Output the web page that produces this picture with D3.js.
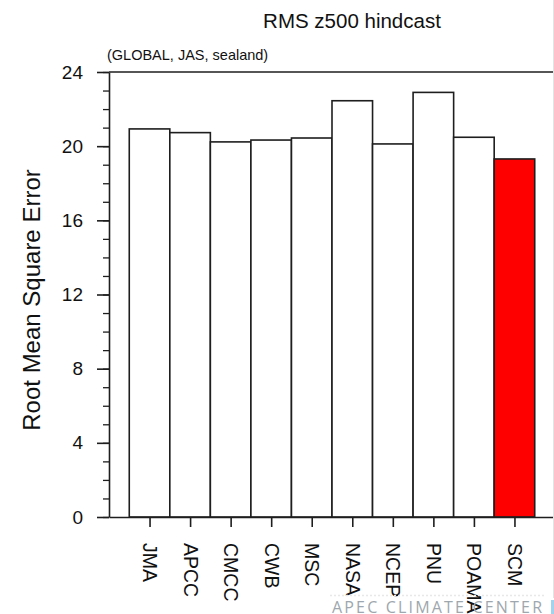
<!DOCTYPE html>
<html>
<head>
<meta charset="utf-8">
<script src="https://cdn.jsdelivr.net/npm/d3@7/dist/d3.min.js"></script>
<style>
  html, body { margin: 0; padding: 0; background: #fff; }
  svg { display: block; font-family: "Liberation Sans", Arial, Helvetica, sans-serif; }
</style>
</head>
<body>
<svg id="chart" width="554" height="614"></svg>
<script>
// Model names along the x axis
const models = ["JMA", "APCC", "CMCC", "CWB", "MSC", "NASA", "NCEP", "PNU", "POAMA", "SCM"];
// RMS error of 500 hPa geopotential height hindcasts
const rmsValues = [20.93, 20.73, 20.23, 20.33, 20.44, 22.45, 20.12, 22.9, 20.48, 19.31];
// Bar fill per model (the multi-model ensemble is highlighted)
const barFills = ["#ffffff", "#ffffff", "#ffffff", "#ffffff", "#ffffff", "#ffffff", "#ffffff", "#ffffff", "#ffffff", "#ff0000"];
// Y axis tick labels
const yMajorTicks = [0, 4, 8, 12, 16, 20, 24];
const yMinorTicks = d3.range(0, 25, 1);

const svg = d3.select("#chart");
const ink = "#1e1e1e";

const plot = { left: 109, right: 555, top: 72, bottom: 517 };

const x = d3.scaleLinear().domain([0, models.length + 1]).range([plot.left, plot.right]);
const y = d3.scaleLinear().domain([0, 24]).range([plot.bottom, plot.top]);

// Bars
svg.append("g")
  .selectAll("rect")
  .data(rmsValues)
  .join("rect")
  .attr("x", (d, i) => x(i + 0.5))
  .attr("y", d => y(d))
  .attr("width", x(1) - x(0))
  .attr("height", d => y(0) - y(d))
  .attr("fill", (d, i) => barFills[i])
  .attr("stroke", ink)
  .attr("stroke-width", 1.6);

// Minor y ticks
svg.append("g")
  .attr("transform", `translate(${plot.left},0)`)
  .call(d3.axisLeft(y).tickValues(yMinorTicks).tickSize(6).tickFormat(""))
  .call(g => g.select(".domain").remove())
  .call(g => g.selectAll("line").attr("stroke", ink).attr("stroke-width", 1.3));

// Major y ticks and labels
svg.append("g")
  .attr("transform", `translate(${plot.left},0)`)
  .call(d3.axisLeft(y).tickValues(yMajorTicks).tickSize(12).tickSizeOuter(0).tickPadding(14).tickFormat(d3.format("d")))
  .call(g => g.select(".domain").attr("stroke", ink).attr("stroke-width", 1.6))
  .call(g => g.selectAll("line").attr("stroke", ink).attr("stroke-width", 1.6))
  .call(g => g.selectAll("text").attr("fill", "#111").attr("font-size", 19)
    .attr("font-family", "'Liberation Sans', Arial, sans-serif"));

// Top frame line
svg.append("line")
  .attr("x1", plot.left).attr("x2", plot.right)
  .attr("y1", plot.top).attr("y2", plot.top)
  .attr("stroke", ink).attr("stroke-width", 1.6);

// X axis with rotated model names
const xAxis = svg.append("g")
  .attr("transform", `translate(0,${plot.bottom})`)
  .call(d3.axisBottom(x).tickValues(d3.range(1, models.length + 1)).tickSize(10).tickSizeOuter(0)
    .tickFormat((d) => models[d - 1]));
xAxis.select(".domain").attr("stroke", ink).attr("stroke-width", 1.6);
xAxis.selectAll("line").attr("stroke", ink).attr("stroke-width", 1.6);
xAxis.selectAll("text")
  .attr("fill", "#111")
  .attr("font-size", 19.5)
  .attr("font-family", "'Liberation Sans', Arial, sans-serif")
  .attr("text-anchor", "start")
  .attr("dominant-baseline", "central")
  .attr("dy", null)
  .attr("y", 0)
  .attr("x", 0)
  .attr("transform", "translate(0,26) rotate(90)");

// Light right edge of the frame
svg.append("line")
  .attr("x1", 553.5).attr("x2", 553.5)
  .attr("y1", 0).attr("y2", 598)
  .attr("stroke", "#e4e4e4").attr("stroke-width", 1);

// Title
svg.append("text")
  .attr("x", 352).attr("y", 28)
  .attr("text-anchor", "middle")
  .attr("font-size", 20.5)
  .attr("fill", "#111")
  .text("RMS z500 hindcast");

// Subtitle
svg.append("text")
  .attr("x", 107).attr("y", 60)
  .attr("font-size", 14.5)
  .attr("fill", "#111")
  .text("(GLOBAL, JAS, sealand)");

// Y axis title
svg.append("text")
  .attr("transform", "translate(40,300) rotate(-90)")
  .attr("text-anchor", "middle")
  .attr("font-size", 24)
  .attr("fill", "#111")
  .text("Root Mean Square Error");

// Footer credit
svg.append("line")
  .attr("x1", 330).attr("x2", 545)
  .attr("y1", 595.5).attr("y2", 595.5)
  .attr("stroke", "#e8e8e8").attr("stroke-width", 1.5)
  .attr("stroke-dasharray", "2,2");
svg.append("text")
  .attr("x", 332).attr("y", 613)
  .attr("font-size", 16)
  .attr("textLength", 210)
  .attr("lengthAdjust", "spacing")
  .attr("fill", "#9ea7ad")
  .attr("font-family", "'Open Sans', 'DejaVu Sans', sans-serif")
  .text("APEC CLIMATE CENTER");
svg.append("rect")
  .attr("x", 551).attr("y", 600)
  .attr("width", 3).attr("height", 14)
  .attr("fill", "#9fd3ee");
</script>
</body>
</html>
